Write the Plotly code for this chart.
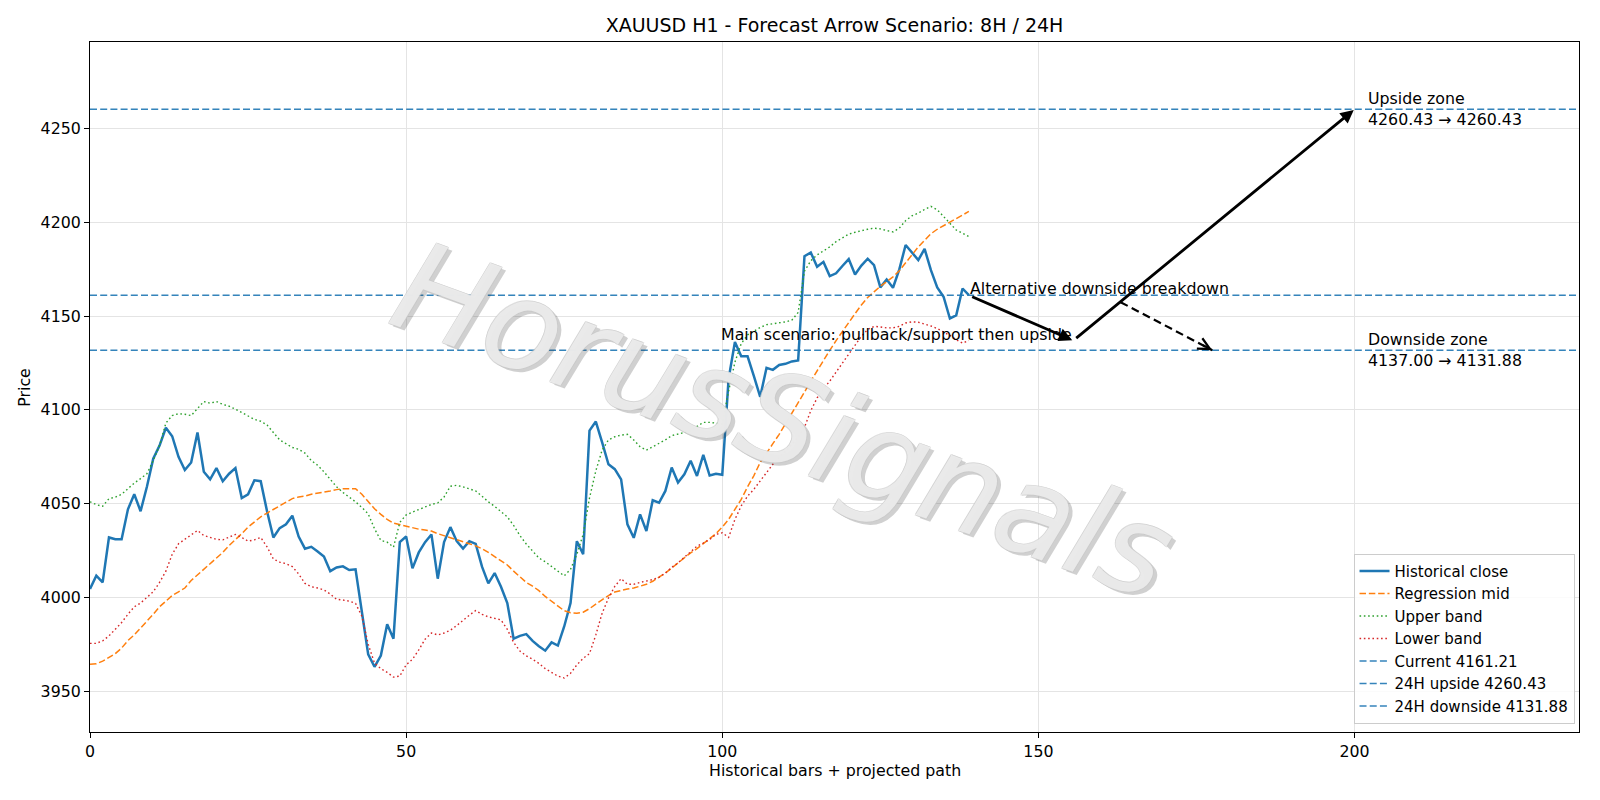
import plotly.graph_objects as go

# ---------------- data ----------------
close = [4004.5, 4011.6, 4008, 4032, 4031, 4031, 4047, 4055, 4046, 4059,
         4074, 4081, 4090.5, 4086, 4075, 4068, 4072, 4088, 4067, 4063,
         4069, 4062, 4066, 4069, 4053, 4055, 4062.5, 4062, 4046, 4032,
         4037, 4039, 4043.6, 4032.5, 4026, 4027, 4024.5, 4021.8, 4014, 4016,
         4016.6, 4014.6, 4015, 3991, 3969.6, 3963, 3969, 3985.7, 3978, 4029.5,
         4032.5, 4015.5, 4024, 4029.5, 4033.6, 4010, 4029.5, 4037.5, 4030, 4026,
         4030, 4028.6, 4016.4, 4007.5, 4013, 4005.7, 3997, 3978, 3979.5, 3980.4,
         3976.8, 3974, 3971.6, 3976, 3974.3, 3984.5, 3997, 4030, 4023, 4089,
         4093.8, 4082.7, 4071, 4068.4, 4063, 4039, 4031.8, 4044.3, 4035.4, 4051.8,
         4050.5, 4056.8, 4069.3, 4061.3, 4065.7, 4072.9, 4064.8, 4076, 4065, 4066,
         4065.4, 4116.6, 4136.3, 4128.6, 4128.6, 4118, 4107, 4122.5, 4121.4, 4124,
         4124.6, 4125.9, 4126.4, 4182, 4184, 4176.4, 4179, 4171.4, 4172.9, 4176.8,
         4180.5, 4172.3, 4177, 4180.7, 4177.3, 4165.4, 4169.6, 4165.2, 4175, 4188,
         4184, 4180, 4185.9, 4174.6, 4165.4, 4160.4, 4148.8, 4150.5, 4164.8, 4161.21]

regression_mid = [3964.3, 3964.6, 3966, 3968, 3970, 3973, 3977, 3980, 3983.6, 3987.5,
                  3991, 3995, 3998, 4001, 4003, 4005, 4009, 4012, 4014.6, 4018,
                  4021, 4024, 4027.7, 4030.7, 4034, 4037.5, 4040, 4043, 4045, 4047,
                  4049, 4051, 4052.7, 4053.6, 4054, 4055, 4055.5, 4056, 4056.8, 4057.5,
                  4058, 4058, 4058, 4055, 4051.4, 4047.3, 4044.3, 4041.6, 4039.6, 4038.8,
                  4038, 4037, 4036.4, 4036, 4035.4, 4034, 4033, 4032, 4031, 4030,
                  4028.6, 4027.5, 4026, 4024, 4021.8, 4019.6, 4017.3, 4014, 4011, 4008,
                  4006, 4003.6, 4000.5, 3997.9, 3995.2, 3992.9, 3991.8, 3991.6, 3992.1, 3994,
                  3996.4, 3998.8, 4001, 4002.9, 4003.8, 4004.5, 4005, 4005.9, 4007, 4008.6,
                  4010.7, 4013, 4015.7, 4018.4, 4021.4, 4023.8, 4026, 4028.6, 4031.4, 4034,
                  4037.5, 4041.6, 4047, 4052.3, 4059, 4065, 4072, 4077.3, 4082, 4087,
                  4092.5, 4098, 4103.6, 4109.5, 4115.4, 4121, 4126.4, 4131.8, 4137, 4142,
                  4147, 4151.4, 4156, 4160, 4163, 4166, 4168.4, 4171, 4174.3, 4178.2,
                  4182.7, 4187, 4190.7, 4194, 4196.4, 4198.2, 4200, 4201.8, 4204, 4205.9]

upper_band = [4051, 4049.5, 4048.6, 4052.7, 4053.5, 4055, 4058, 4061, 4063.4, 4066,
              4073, 4081, 4093, 4097, 4098, 4097.7, 4097, 4101, 4104.5, 4103.6,
              4104.5, 4103, 4102, 4100.4, 4098.6, 4097, 4095, 4094, 4092, 4088,
              4084, 4082, 4080, 4079, 4077, 4073, 4070.5, 4067, 4063, 4059,
              4056, 4053.6, 4051, 4048, 4044.6, 4036.6, 4030.4, 4029.5, 4026.8, 4040,
              4044, 4045.5, 4046.8, 4048, 4049.6, 4050.4, 4053.6, 4059.3, 4059.8, 4059,
              4058, 4056.8, 4054, 4051, 4048.6, 4046, 4043, 4038.4, 4033, 4028.5,
              4024.5, 4021, 4019, 4016.6, 4014, 4011.5, 4015, 4023, 4033.6, 4053,
              4067.5, 4078.6, 4084, 4085.7, 4086.6, 4087, 4084, 4080.4, 4078.6, 4080.4,
              4081.8, 4084, 4086.3, 4087, 4088, 4089, 4091, 4093.4, 4093.4, 4093,
              4092.5, 4110, 4125.5, 4135.4, 4140, 4142, 4144, 4145.5, 4146, 4146.8,
              4147, 4147.9, 4152, 4174, 4179.6, 4182.7, 4185, 4187, 4189.8, 4192,
              4193.8, 4194.8, 4195.7, 4196.4, 4197, 4196.6, 4195.7, 4195, 4197, 4201,
              4203.6, 4205, 4207, 4208.6, 4206.8, 4203, 4199.3, 4196, 4194.3, 4192.5]

lower_band = [3975.5, 3975.5, 3976.8, 3979.5, 3983, 3986.6, 3991, 3995, 3997, 4000,
              4003, 4008, 4014, 4023, 4028.6, 4031, 4033.6, 4035.7, 4033, 4032,
              4031, 4030.7, 4032, 4033.6, 4032, 4030, 4030.7, 4032, 4027, 4020.5,
              4018.8, 4018, 4016.4, 4012.5, 4007.5, 4005.7, 4005, 4004, 4001.8, 3999,
              3998.6, 3998, 3996.8, 3990, 3975, 3965, 3962, 3960, 3957.5, 3958,
              3964, 3967, 3972, 3977.7, 3981, 3980, 3981, 3982.5, 3985, 3988,
              3990.5, 3993, 3991, 3989.6, 3989, 3988, 3983, 3976, 3971.4, 3968.8,
              3967, 3964.8, 3962, 3959.8, 3958, 3957, 3959.5, 3964, 3967.5, 3970,
              3980, 3991.6, 3999.6, 4005.9, 4010, 4007, 4007, 4008, 4008.6, 4009.5,
              4010.7, 4013, 4016, 4018.4, 4021.4, 4024.6, 4027.3, 4029, 4030.9, 4033.6,
              4034.5, 4032, 4041.6, 4048.8, 4054, 4057.7, 4062, 4066.6, 4071, 4074.6,
              4077.9, 4081.8, 4085.4, 4090.7, 4099.6, 4106.4, 4111.3, 4115.4, 4120.2, 4125,
              4130, 4134.8, 4139.3, 4142.9, 4144.6, 4144.3, 4143.8, 4143.8, 4144.6, 4146.4,
              4147, 4146.8, 4146, 4144.8, 4143.4, 4141.6, 4139.8, 4137.5, 4135.7, 4137]

bars = list(range(len(close)))

current_price = 4161.21
upside_24h = 4260.43
downside_24h = 4131.88
support_8h = 4137.00

# scenario path points (bar index, price)
main_path_x = [139, 155.5, 200]
main_path_y = [current_price, support_8h, upside_24h]
alt_path_x = [163, 177.5]
alt_path_y = [4157.5, downside_24h]

x_range = [0, 235.5]
y_range = [3928.2, 4296.3]
x_ticks = [0, 50, 100, 150, 200]
y_ticks = [3950, 4000, 4050, 4100, 4150, 4200, 4250]

title_text = "XAUUSD H1 - Forecast Arrow Scenario: 8H / 24H"
watermark = "HorusSignals"

# ---------------- styling ----------------
FONT = "DejaVu Sans"
FS = 15.8
C_BLUE = "#1f77b4"
C_ORANGE = "#ff7f0e"
C_GREEN = "#2ca02c"
C_RED = "#d62728"

fig = go.Figure()

fig.add_trace(go.Scatter(x=bars, y=close, mode="lines", name="Historical close",
                         line=dict(color=C_BLUE, width=2.5)))
fig.add_trace(go.Scatter(x=bars, y=regression_mid, mode="lines", name="Regression mid",
                         line=dict(color=C_ORANGE, width=1.5, dash="6.5px,2.8px")))
fig.add_trace(go.Scatter(x=bars, y=upper_band, mode="lines", name="Upper band",
                         line=dict(color=C_GREEN, width=1.4, dash="1.6px,2.7px")))
fig.add_trace(go.Scatter(x=bars, y=lower_band, mode="lines", name="Lower band",
                         line=dict(color=C_RED, width=1.4, dash="1.6px,2.7px")))

for label, val in [(f"Current {current_price:.2f}", current_price),
                   (f"24H upside {upside_24h:.2f}", upside_24h),
                   (f"24H downside {downside_24h:.2f}", downside_24h)]:
    fig.add_trace(go.Scatter(x=x_range, y=[val, val], mode="lines", name=label,
                             line=dict(color=C_BLUE, width=1.4, dash="7px,3.2px"),
                             opacity=0.9))

# alternative dashed path shaft
fig.add_trace(go.Scatter(x=alt_path_x, y=alt_path_y, mode="lines", showlegend=False,
                         hoverinfo="skip",
                         line=dict(color="black", width=2.2, dash="8px,4.5px")))

# watermark (shadow copy first, then main text)
WM_X, WM_Y = 0.466, 0.452
WM_ANGLE = 20
WM_SIZE = 125
annotations = [
    dict(x=WM_X, y=WM_Y, xref="paper", yref="paper", xshift=3.5, yshift=-3.5,
         text=watermark, showarrow=False, textangle=WM_ANGLE, xanchor="center", yanchor="middle",
         font=dict(family=FONT, size=WM_SIZE, color="rgba(60,60,60,0.24)", style="italic")),
    dict(x=WM_X, y=WM_Y, xref="paper", yref="paper",
         text=watermark, showarrow=False, textangle=WM_ANGLE, xanchor="center", yanchor="middle",
         font=dict(family=FONT, size=WM_SIZE, color="rgba(255,255,255,0.6)", style="italic",
                   shadow="-0.7px -0.7px 0 #c8c8c8, 0.7px -0.7px 0 #c8c8c8, "
                          "-0.7px 0.7px 0 #c8c8c8, 0.7px 0.7px 0 #c8c8c8")),
]

# main solid arrows
for i in range(len(main_path_x) - 1):
    annotations.append(dict(
        x=main_path_x[i + 1], y=main_path_y[i + 1],
        ax=main_path_x[i], ay=main_path_y[i],
        xref="x", yref="y", axref="x", ayref="y",
        text="", showarrow=True, arrowhead=2, arrowsize=0.95,
        arrowwidth=2.8, arrowcolor="black", standoff=1, startstandoff=2))
# alt arrow head (open chevron)
annotations.append(dict(
    x=alt_path_x[1], y=alt_path_y[1], ax=-11, ay=-5.8,
    xref="x", yref="y", text="", showarrow=True, arrowhead=5, arrowsize=1.1,
    arrowwidth=2.1, arrowcolor="black"))

annotations += [
    dict(x=main_path_x[1], y=main_path_y[1], xref="x", yref="y", yshift=-4,
         text="Main scenario: pullback/support then upside", showarrow=False,
         xanchor="right", yanchor="bottom", font=dict(family=FONT, size=FS, color="black"),
         borderpad=0),
    dict(x=main_path_x[0], y=current_price, xref="x", yref="y", yshift=-4,
         text="Alternative downside breakdown", showarrow=False,
         xanchor="left", yanchor="bottom", font=dict(family=FONT, size=FS, color="black"),
         borderpad=0),
    dict(x=202, y=upside_24h, xref="x", yref="y",
         text=f"Upside zone<br>{upside_24h:.2f} → {upside_24h:.2f}", showarrow=False,
         xanchor="left", yanchor="middle", align="left",
         font=dict(family=FONT, size=FS, color="black"), borderpad=0),
    dict(x=202, y=downside_24h, xref="x", yref="y",
         text=f"Downside zone<br>{support_8h:.2f} → {downside_24h:.2f}", showarrow=False,
         xanchor="left", yanchor="middle", align="left",
         font=dict(family=FONT, size=FS, color="black"), borderpad=0),
    # axis titles
    dict(x=0.5, y=-0.0565, xref="paper", yref="paper", text="Historical bars + projected path",
         showarrow=False, xanchor="center", yanchor="middle",
         font=dict(family=FONT, size=FS, color="black")),
    dict(x=-0.0445, y=0.5, xref="paper", yref="paper", text="Price", textangle=-90,
         showarrow=False, xanchor="center", yanchor="middle",
         font=dict(family=FONT, size=FS, color="black")),
]

fig.update_layout(
    width=1600, height=800,
    margin=dict(l=90, r=21, t=42, b=68),
    paper_bgcolor="white", plot_bgcolor="white",
    font=dict(family=FONT, size=FS, color="black"),
    title=dict(text=title_text, x=0.5, xref="paper", y=1 - 25.5 / 800, yref="container",
               xanchor="center", yanchor="middle",
               font=dict(family=FONT, size=19, color="black")),
    annotations=annotations,
    showlegend=True,
    legend=dict(x=0.997, y=0.012, xanchor="right", yanchor="bottom",
                bgcolor="rgba(255,255,255,0.85)", bordercolor="#cccccc", borderwidth=1,
                font=dict(family=FONT, size=15.0, color="black"), tracegroupgap=0),
)

fig.update_xaxes(range=x_range, tickvals=x_ticks, showgrid=True, gridcolor="#e4e4e4",
                 gridwidth=1, zeroline=False, showline=True, linecolor="black", linewidth=1.1,
                 mirror=True, ticks="outside", ticklen=5, tickcolor="black",
                 tickfont=dict(family=FONT, size=FS, color="black"))
fig.update_yaxes(range=y_range, tickvals=y_ticks, showgrid=True, gridcolor="#e4e4e4",
                 gridwidth=1, zeroline=False, showline=True, linecolor="black", linewidth=1.1,
                 mirror=True, ticks="outside", ticklen=5, tickcolor="black",
                 tickfont=dict(family=FONT, size=FS, color="black"))

fig.write_html("out.html")
